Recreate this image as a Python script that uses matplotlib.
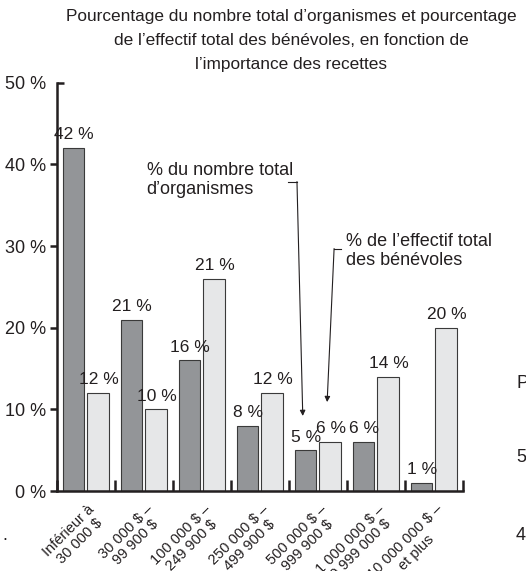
import numpy as np
import matplotlib.pyplot as plt
from matplotlib import font_manager

# Data
categories = ['Inférieur à\n30 000 $', '30 000 $ –\n99 900 $', '100 000 $ –\n249 900 $',
              '250 000 $ –\n499 900 $', '500 000 $ –\n999 900 $', '1 000 000 $ –\n9 999 000 $',
              '10 000 000 $ –\net plus']
org_pct = [42, 21, 16, 8, 5, 6, 1]
org_labels = ['42 %', '21 %', '16 %', '8 %', '5 %', '6 %', '1 %']
vol_pct = [12, 10, 26, 12, 6, 14, 20]   # drawn heights as in the picture
vol_labels = ['12 %', '10 %', '21 %', '12 %', '6 %', '14 %', '20 %']
y_ticks = [0, 10, 20, 30, 40]
y_tick_labels = ['0 %', '10 %', '20 %', '30 %', '40 %']

names = {f.name for f in font_manager.fontManager.ttflist}
fam = [f for f in ['Liberation Sans Narrow', 'Liberation Sans', 'DejaVu Sans'] if f in names]
plt.rcParams['font.family'] = fam

txt = '#231f20'
dark = '#939598'
light = '#e6e7e8'

fig = plt.figure(figsize=(5.26, 5.71), dpi=100)
ax = fig.add_axes([0.108, 0.140, 0.772, 0.715])

x = np.arange(len(categories))
w = 0.37
ax.bar(x + 0.285, org_pct, width=w, color=dark, edgecolor='#3a3a3a', linewidth=0.8)
ax.bar(x + 0.71, vol_pct, width=w, color=light, edgecolor='#3a3a3a', linewidth=0.8)

for i in range(len(categories)):
    ax.text(x[i] + 0.3, org_pct[i] + 0.7, org_labels[i], ha='center', va='bottom',
            fontsize=12.5, color=txt)
    ax.text(x[i] + 0.73, vol_pct[i] + 0.7, vol_labels[i], ha='center', va='bottom',
            fontsize=12.5, color=txt)

ax.set_xlim(0, len(categories))
ax.set_ylim(0, 50)

for s in ['top', 'right']:
    ax.spines[s].set_visible(False)
for s in ['left', 'bottom']:
    ax.spines[s].set_linewidth(1.8)
    ax.spines[s].set_color(txt)

ax.set_yticks(y_ticks)
ax.set_yticklabels(y_tick_labels)
ax.set_yticks([50], minor=True)
ax.set_yticklabels(['50 %'], minor=True)
ax.tick_params(axis='y', which='major', direction='out', length=5, width=1.8,
               labelsize=13, colors=txt, pad=3)
ax.tick_params(axis='y', which='minor', direction='in', length=5, width=1.8,
               labelsize=13, colors=txt, pad=8)

ax.set_xticks(np.arange(len(categories) + 1))
ax.set_xticklabels([])
ax.tick_params(axis='x', direction='in', length=8, width=1.8, colors=txt)

for i, lab in enumerate(categories):
    ax.annotate(lab, xy=(x[i] + 0.53, 0), xycoords=('data', 'axes fraction'),
                xytext=(0, -8), textcoords='offset points', rotation=45,
                rotation_mode='anchor', ha='right', va='top', multialignment='center',
                fontsize=10.5, color=txt, linespacing=1.05)

# Title
fig.text(0.553, 0.985, "Pourcentage du nombre total d’organismes et pourcentage\n"
         "de l’effectif total des bénévoles, en fonction de\nl’importance des recettes",
         ha='center', va='top', fontsize=12.4, color=txt, linespacing=1.75)

# Callouts
ax.text(1.55, 38.1, '% du nombre total\nd’organismes', ha='left', va='center',
        fontsize=13, color=txt, linespacing=1.15)
ax.plot([3.98, 4.14], [37.9, 37.9], color=txt, lw=0.8)
ax.annotate('', xy=(4.24, 9.2), xytext=(4.14, 37.9),
            arrowprops=dict(arrowstyle='-|>', color=txt, lw=0.8, mutation_scale=8,
                            shrinkA=0, shrinkB=0))

ax.text(4.98, 29.4, '% de l’effectif total\ndes bénévoles', ha='left', va='center',
        fontsize=13, color=txt, linespacing=1.15)
ax.plot([4.78, 4.90], [29.7, 29.7], color=txt, lw=0.8)
ax.annotate('', xy=(4.66, 10.9), xytext=(4.78, 29.7),
            arrowprops=dict(arrowstyle='-|>', color=txt, lw=0.8, mutation_scale=8,
                            shrinkA=0, shrinkB=0))

# fragments of the neighbouring chart at the page edges
fig.text(0.981, 1 - 383 / 571, 'P', fontsize=13, color=txt, va='center')
fig.text(0.981, 1 - 457 / 571, '5', fontsize=13, color=txt, va='center')
fig.text(0.981, 1 - 535 / 571, '4', fontsize=13, color=txt, va='center')
fig.text(0.004, 1 - 535 / 571, '.', fontsize=13, color=txt, va='center')

fig.savefig('out.png', dpi=100)
